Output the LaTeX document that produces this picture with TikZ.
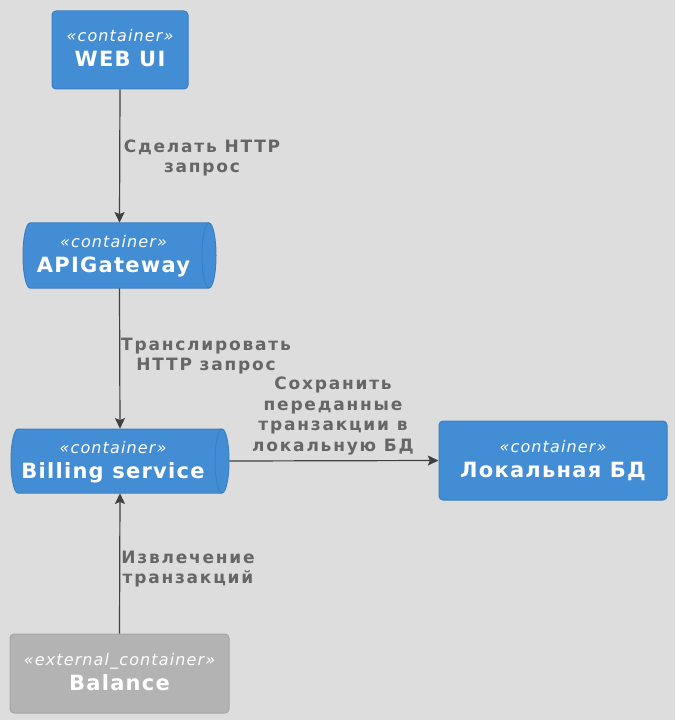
\documentclass[tikz,border=0pt]{standalone}
\usepackage{fontspec}
\setmainfont{DejaVu Sans}
\newfontfamily\stereofont[LetterSpace=7]{DejaVu Sans}
\newfontfamily\titlefont[LetterSpace=6]{DejaVu Sans}
\newfontfamily\lblfont[LetterSpace=10.5]{DejaVu Sans}
\usetikzlibrary{arrows.meta,calc}
\definecolor{bg}{HTML}{DDDDDD}
\definecolor{cfill}{HTML}{438DD5}
\definecolor{cdraw}{HTML}{3C7FC0}
\definecolor{xfill}{HTML}{B3B3B3}
\definecolor{xdraw}{HTML}{A6A6A6}
\definecolor{lineclr}{HTML}{404040}
\definecolor{lblclr}{HTML}{666666}
\tikzset{
  box/.style={rectangle, rounded corners=3pt, fill=cfill, draw=cdraw, line width=0.75pt, inner sep=0pt},
  extbox/.style={box, fill=xfill, draw=xdraw},
  qbox/.style={rectangle, inner sep=0pt, draw=none},
  queue/.style={fill=cfill, draw=cdraw, line width=0.75pt},
  stereo/.style={anchor=base, inner sep=0pt, text=white, font=\stereofont\itshape\fontsize{12pt}{14pt}\selectfont},
  ttl/.style={anchor=base, inner sep=0pt, text=white, font=\titlefont\bfseries\fontsize{15.75pt}{18pt}\selectfont},
  conn/.style={draw=lineclr, line width=0.9pt, -{Stealth[length=8pt,width=7.5pt,inset=1.5pt]}},
  lbl/.style={align=center, inner sep=0pt, text=lblclr, font=\lblfont\bfseries\fontsize{12.75pt}{15.6pt}\selectfont},
}
\begin{document}
\begin{tikzpicture}[x=0.75pt,y=-0.75pt]
\fill[bg] (0,0) rectangle (675,720);
\useasboundingbox (0,0) rectangle (675,720);

% WEB UI
\node[box, minimum width=136*0.75pt, minimum height=78*0.75pt] (web) at (120,50) {};
\node[stereo] (webst) at ($(web.center)+(0,-8)$) {«container»};
\node[ttl] (webt) at ($(web.center)+(0,17)$) {WEB UI};

% APIGateway (queue)
\draw[queue] (30,223) -- (209,223) arc[start angle=90,end angle=-90,x radius=5.25pt,y radius=24.375pt]
  -- (30,288) arc[start angle=270,end angle=90,x radius=5.25pt,y radius=24.375pt] -- cycle;
\draw[draw=cdraw, line width=0.75pt] (209,223) arc[start angle=90,end angle=270,x radius=5.25pt,y radius=24.375pt];
\node[qbox, minimum width=193*0.75pt, minimum height=65*0.75pt] (api) at (119.5,255.5) {};
\node[stereo] (apist) at ($(api.center)+(-6,-8)$) {«container»};
\node[ttl] (apit) at ($(api.center)+(-6,17)$) {APIGateway};

% Billing service (queue)
\draw[queue] (18,429) -- (222,429) arc[start angle=90,end angle=-90,x radius=5.25pt,y radius=24pt]
  -- (18,493) arc[start angle=270,end angle=90,x radius=5.25pt,y radius=24pt] -- cycle;
\draw[draw=cdraw, line width=0.75pt] (222,429) arc[start angle=90,end angle=270,x radius=5.25pt,y radius=24pt];
\node[qbox, minimum width=218*0.75pt, minimum height=64*0.75pt] (bill) at (120,461) {};
\node[stereo] (billst) at ($(bill.center)+(-7,-8)$) {«container»};
\node[ttl] (billt) at ($(bill.center)+(-7,17)$) {Billing service};

% Local DB
\node[box, minimum width=228*0.75pt, minimum height=79*0.75pt] (db) at (553,460.5) {};
\node[stereo] (dbst) at ($(db.center)+(0,-8)$) {«container»};
\node[ttl] (dbt) at ($(db.center)+(0,17)$) {Локальная БД};

% Balance
\node[extbox, minimum width=219*0.75pt, minimum height=79*0.75pt] (bal) at (119.5,673.5) {};
\node[stereo] (balst) at ($(bal.center)+(0,-8)$) {«external\_container»};
\node[ttl] (balt) at ($(bal.center)+(0,17)$) {Balance};

% connectors
\draw[conn] (web.south) -- (api.north);
\draw[conn] (api.south) -- (bill.north);
\draw[conn] (bill.east) -- (db.west);
\draw[conn] (bal.north) -- (bill.south);

% labels
\node[lbl] (l1) at (202,158) {Сделать HTTP\\запрос};
\node[lbl] (l2) at (206,356) {Транслировать\\HTTP запрос};
\node[lbl] (l3) at (333,416) {Сохранить\\переданные\\транзакции в\\локальную БД};
\node[lbl] (l4) at (188,569) {Извлечение\\транзакций};
\end{tikzpicture}
\end{document}
